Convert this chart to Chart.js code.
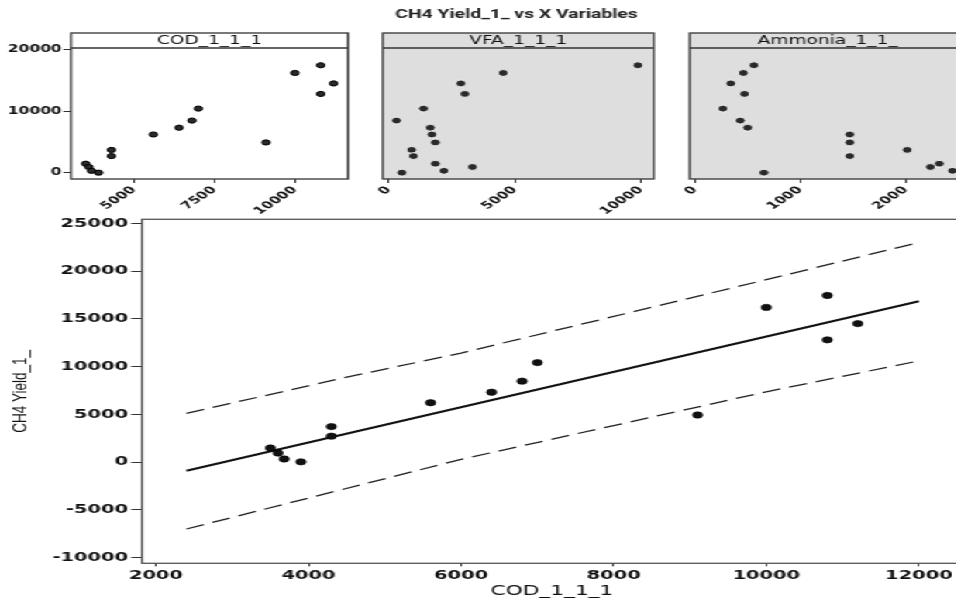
<!DOCTYPE html>
<html>
<head>
<meta charset="utf-8">
<script src="https://cdn.jsdelivr.net/npm/chart.js@4.4.0/dist/chart.umd.min.js"></script>
<style>
  html, body { margin: 0; padding: 0; background: #fff; }
  body { width: 956px; height: 603px; overflow: hidden; position: relative; }
  /* the reference picture is stretched sideways, so draw narrow and stretch */
  #fig { position: absolute; left: 0; top: 0; width: 617px; height: 603px; transform: scaleX(1.55); transform-origin: 0 0; }
  .box { position: absolute; }
</style>
</head>
<body>
<div id="fig">
  <div class="box" style="left:0px;top:25px;width:235px;height:195px"><canvas id="p1"></canvas></div>
  <div class="box" style="left:241.5px;top:0px;width:184.8px;height:220px"><canvas id="p2"></canvas></div>
  <div class="box" style="left:439.5px;top:25px;width:193px;height:195px"><canvas id="p3"></canvas></div>
  <div class="box" style="left:0px;top:200px;width:630px;height:403px"><canvas id="main"></canvas></div>
</div>
<script>
const ch4     = [17450, 16200, 14500, 12800, 10420, 8480, 7320, 6220, 4930, 3720, 2720, 1480, 950, 330, 30];
const cod     = [10800, 10000, 11200, 10800, 7000, 6800, 6400, 5600, 9100, 4300, 4300, 3500, 3600, 3680, 3900];
const vfa     = [9880, 4540, 2860, 3020, 1380, 310, 1650, 1710, 1850, 910, 980, 1850, 3320, 2190, 520];
const ammonia = [560, 460, 340, 470, 265, 430, 500, 1470, 1470, 2015, 1470, 2320, 2235, 2445, 655];

// fitted line and prediction interval
const fitX = [2400, 12000];
const fitY = [-900, 16840];
const piX = [2400, 4400, 6000, 8000, 10000, 12000];
const piUpper = [5100, 8720, 11420, 15250, 19100, 23000];
const piLower = [-7000, -2950, 290, 3830, 7360, 10600];

// tick labels
const panelYTicks = [0, 10000, 20000];
const codTicks = [5000, 7500, 10000];
const vfaTicks = [0, 5000, 10000];
const ammoniaTicks = [0, 1000, 2000];
const mainXTicks = [2000, 4000, 6000, 8000, 10000, 12000];
const mainYTicks = [-10000, -5000, 0, 5000, 10000, 15000, 20000, 25000];

Chart.defaults.font.family = '"DejaVu Sans", sans-serif';
Chart.defaults.color = '#111';
Chart.defaults.animation = false;

const pts = (xs, ys) => xs.map((x, i) => ({ x: x, y: ys[i] }));
const setTicks = vals => s => { s.ticks = vals.map(v => ({ value: v })); };
const plain = { useGrouping: false };

const stripPlugin = {
  id: 'strip',
  beforeDraw(chart, args, opts) {
    const a = chart.chartArea, ctx = chart.ctx;
    ctx.save();
    ctx.fillStyle = opts.bg;
    ctx.fillRect(a.left, a.top - 15, a.right - a.left, a.bottom - a.top + 15);
    ctx.restore();
  },
  afterDraw(chart, args, opts) {
    const a = chart.chartArea, ctx = chart.ctx;
    ctx.save();
    ctx.strokeStyle = '#333';
    ctx.lineWidth = 1.3;
    ctx.strokeRect(a.left, a.top - 15, a.right - a.left, a.bottom - a.top + 15);
    ctx.beginPath();
    ctx.moveTo(a.left, a.top);
    ctx.lineTo(a.right, a.top);
    ctx.stroke();
    ctx.fillStyle = '#111';
    ctx.font = '12px "DejaVu Sans"';
    ctx.textAlign = 'center';
    ctx.textBaseline = 'middle';
    ctx.fillText(opts.label, (a.left + a.right) / 2, a.top - 7);
    ctx.restore();
  }
};

const framePlugin = {
  id: 'frame',
  afterDraw(chart) {
    const a = chart.chartArea, ctx = chart.ctx;
    ctx.save();
    ctx.strokeStyle = '#555';
    ctx.lineWidth = 1.3;
    ctx.strokeRect(a.left, a.top, a.right - a.left, a.bottom - a.top);
    ctx.restore();
  }
};

function panel(id, xs, xmin, xmax, xticks, showY, label, bg, pad, title) {
  return new Chart(document.getElementById(id), {
    type: 'scatter',
    data: {
      datasets: [{
        data: pts(xs, ch4),
        pointRadius: showY ? 2.6 : 3.4,
        backgroundColor: '#2a2a2a',
        borderColor: showY ? '#000' : 'rgba(255,255,255,0.85)',
        borderWidth: 1
      }]
    },
    plugins: [stripPlugin],
    options: {
      responsive: true,
      maintainAspectRatio: false,
      layout: { padding: pad },
      plugins: {
        legend: { display: false },
        tooltip: { enabled: false },
        title: title,
        strip: { label: label, bg: bg }
      },
      scales: {
        x: {
          type: 'linear', min: xmin, max: xmax,
          afterBuildTicks: setTicks(xticks),
          afterFit: s => { s.height = 41; },
          ticks: { minRotation: 45, maxRotation: 45, autoSkip: false, padding: 1, format: plain,
                   font: { size: 10, weight: 'bold' } },
          grid: { drawOnChartArea: false, tickLength: 4, color: '#333' },
          border: { display: false }
        },
        y: {
          type: 'linear', min: -1000, max: 20250,
          afterBuildTicks: setTicks(panelYTicks),
          afterFit: s => { s.width = showY ? 45.8 : 5; },
          ticks: { display: showY, padding: 1, format: plain, font: { size: 10, weight: 'bold' } },
          grid: { drawOnChartArea: false, drawTicks: showY, tickLength: 5, color: '#333' },
          border: { display: false }
        }
      }
    }
  });
}

panel('p1', cod, 3043, 11646, codTicks, true, 'COD_1_1_1', '#ffffff',
  { top: 23, right: 10.5 }, { display: false });
panel('p2', vfa, -234, 10508, vfaTicks, false, 'VFA_1_1_1', '#dedede',
  { top: 0, right: 2.4 },
  { display: true, text: 'CH4 Yield_1_ vs X Variables', color: '#222',
    font: { family: 'Roboto', size: 12.5, weight: 'bold' }, padding: { top: 7.5, bottom: 25.5 } });
panel('p3', ammonia, -50, 2570, ammoniaTicks, false, 'Ammonia_1_1_', '#dedede',
  { top: 23, right: 10 }, { display: false });

new Chart(document.getElementById('main'), {
  type: 'scatter',
  data: {
    datasets: [
      { data: pts(cod, ch4), pointRadius: 3.2, backgroundColor: '#111', borderColor: '#000', borderWidth: 0.6 },
      { data: pts(fitX, fitY), showLine: true, pointRadius: 0, borderColor: '#111', borderWidth: 2 },
      { data: pts(piX, piUpper), showLine: true, pointRadius: 0, borderColor: '#222', borderWidth: 1.3, borderDash: [12, 6] },
      { data: pts(piX, piLower), showLine: true, pointRadius: 0, borderColor: '#222', borderWidth: 1.3, borderDash: [12, 6] }
    ]
  },
  plugins: [framePlugin],
  options: {
    responsive: true,
    maintainAspectRatio: false,
    layout: { padding: { top: 19.3, right: 9.4 } },
    plugins: { legend: { display: false }, tooltip: { enabled: false } },
    scales: {
      x: {
        type: 'linear', min: 1817, max: 12564,
        afterBuildTicks: setTicks(mainXTicks),
        afterFit: s => { s.height = 39.7; },
        ticks: { maxRotation: 0, autoSkip: false, padding: 2, format: plain, font: { size: 12.5, weight: 'bold' } },
        grid: { drawOnChartArea: false, tickLength: 3, color: '#333' },
        border: { display: false },
        title: { display: true, text: 'COD_1_1_1', font: { size: 14 }, padding: { top: 2, bottom: 3 } }
      },
      y: {
        type: 'linear', min: -10590, max: 25420,
        afterBuildTicks: setTicks(mainYTicks),
        afterFit: s => { s.width = 91.6; },
        ticks: { padding: 2, format: plain, font: { size: 12.5, weight: 'bold' } },
        grid: { drawOnChartArea: false, tickLength: 7, color: '#333' },
        border: { display: false },
        title: { display: true, text: 'CH4 Yield_1_', font: { family: '"Liberation Sans"', size: 13.5 }, padding: { top: 5, bottom: 4 } }
      }
    }
  }
});
</script>
</body>
</html>
